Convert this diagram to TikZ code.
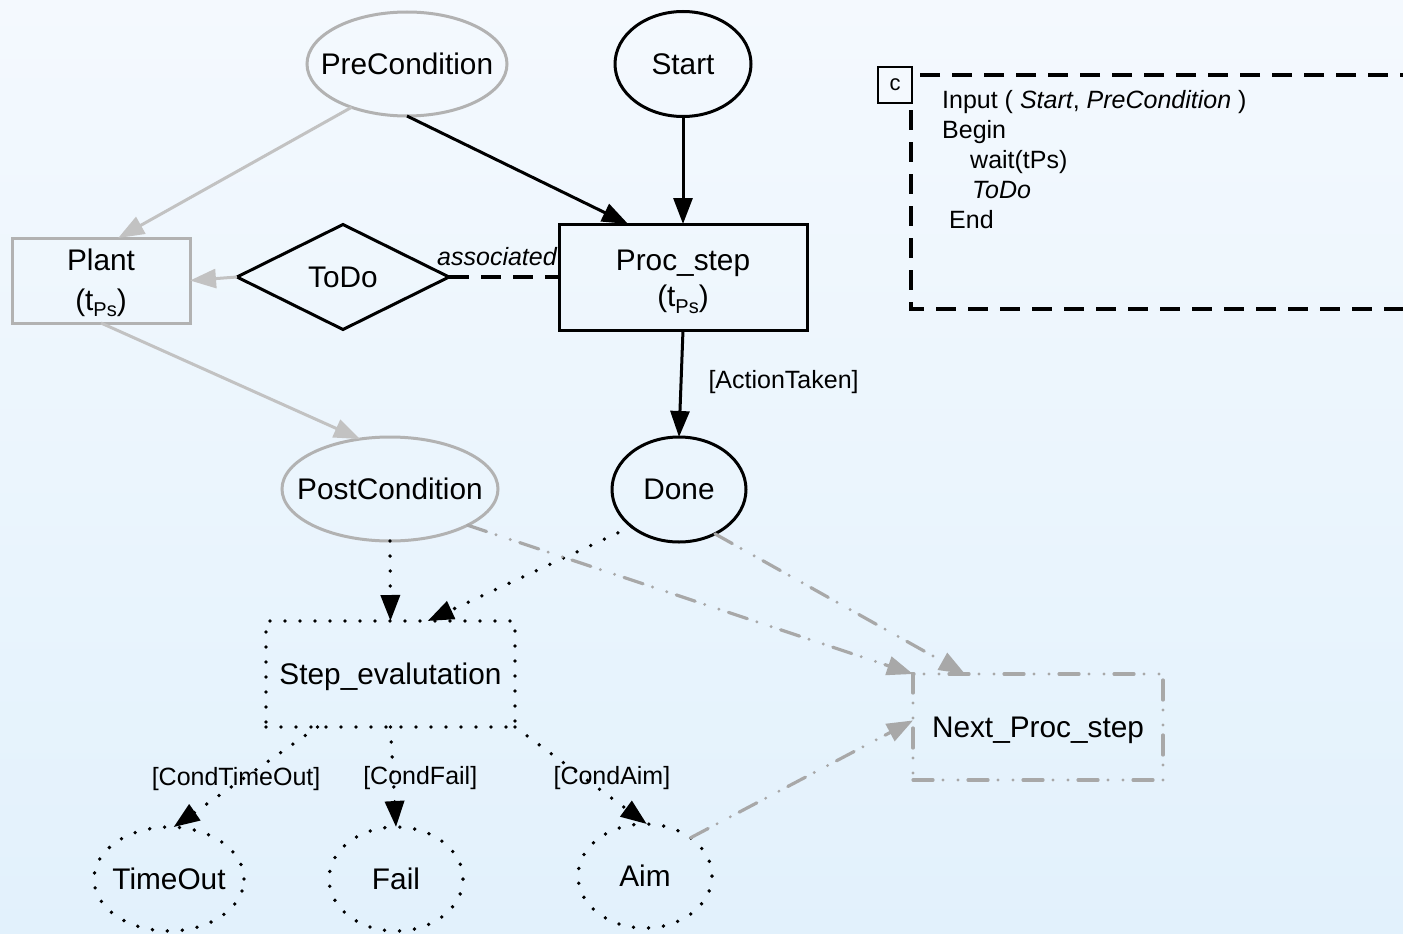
\documentclass[tikz,border=0pt]{standalone}
\usepackage{fontspec}
\setmainfont{Liberation Sans}
\usetikzlibrary{shapes.geometric,arrows.meta}
\definecolor{bgtop}{RGB}{244,249,254}
\definecolor{bgbot}{RGB}{226,241,252}
\definecolor{nodegray}{RGB}{178,178,178}
\definecolor{edgegray}{RGB}{194,194,194}
\definecolor{dashgray}{RGB}{168,168,168}
\newcommand{\subPs}{\raisebox{-0.22em}{\fontsize{20}{20}\selectfont Ps}}
\begin{document}
\begin{tikzpicture}[x=1pt,y=-1pt,
  mainfont/.style={font=\fontsize{29.8}{36}\selectfont},
  smallfont/.style={font=\fontsize{25}{30}\selectfont},
  base/.style={inner sep=0pt, outer sep=0pt, line width=3pt, mainfont, align=center},
  ell/.style={base, ellipse, draw},
  box/.style={base, rectangle, draw},
  dotline/.style={line width=3.8pt, line cap=round, dash pattern=on 0pt off 15pt},
  dashline/.style={line width=3.8pt, dash pattern=on 20pt off 12pt},
  dddline/.style={line width=3.2pt, line cap=round, dash pattern=on 20pt off 10pt on 0pt off 15pt on 0pt off 10pt},
  tip/.style={-{Triangle[length=26pt,width=19pt]}},
  blackedge/.style={tip, line width=3pt, black},
  grayedge/.style={tip, line width=3pt, edgegray},
  dotedge/.style={tip, dotline, black},
  dddedge/.style={tip, dddline, dashgray},
  elabel/.style={smallfont, inner sep=0pt},
  codeline/.style={smallfont, inner sep=0pt, anchor=base west}
]
\shade[top color=bgtop, bottom color=bgbot] (0,0) rectangle (1403,934);
\clip (0,0) rectangle (1403,934);

% nodes
\node[ell, draw=nodegray, minimum width=200pt, minimum height=104pt] (pre) at (407,64) {\makebox[0pt]{PreCondition}};
\node[ell, minimum width=136pt, minimum height=105pt] (start) at (683,64) {\makebox[0pt]{Start}};
\node[box, draw=nodegray, minimum width=178pt, minimum height=85pt] (plant) at (101,280.5) {\rule{0pt}{26pt}Plant\\[4pt](t\subPs)};
\node[base, diamond, draw, minimum width=212pt, minimum height=105pt] (todo) at (343,277) {\makebox[0pt]{ToDo}};
\node[box, minimum width=248pt, minimum height=106pt] (proc) at (683,277) {\rule{0pt}{30pt}Proc\_step\\(t\subPs)};
\node[ell, draw=nodegray, minimum width=216pt, minimum height=104pt] (post) at (390,489) {\makebox[0pt]{PostCondition}};
\node[ell, minimum width=134pt, minimum height=105pt] (done) at (679,489.5) {\makebox[0pt]{Done}};
\node[box, dotline, minimum width=249pt, minimum height=106pt] (step) at (390.5,674) {\rule{0pt}{28pt}Step\_evalutation};
\node[box, dddline, draw=dashgray, minimum width=250pt, minimum height=106pt] (next) at (1038,727) {\rule{0pt}{28pt}Next\_Proc\_step};
\node[ell, dotline, minimum width=150pt, minimum height=104pt] (timeout) at (169,879) {\makebox[0pt]{TimeOut}};
\node[ell, dotline, minimum width=134pt, minimum height=104pt] (fail) at (396,879) {\makebox[0pt]{Fail}};
\node[ell, dotline, minimum width=134pt, minimum height=104pt] (aim) at (645,876) {\makebox[0pt]{Aim}};

% comment box
\draw[dashline] (1420,75) -- (911,75) -- (911,309) -- (1420,309);
\node[draw, line width=1.3pt, fill=bgtop, minimum width=34pt, minimum height=36pt, inner sep=0pt, font=\fontsize{22}{26}\selectfont] (cbox) at (895,85) {c};
\node[codeline] (c1) at (942,108) {Input ( \textit{Start}, \textit{PreCondition} )};
\node[codeline] (c2) at (942,138) {Begin};
\node[codeline] (c3) at (970,168) {wait(tPs)};
\node[codeline] (c4) at (972,198) {\textit{ToDo}};
\node[codeline] (c5) at (949,228) {End};

% edges
\draw[grayedge] (pre.218) -- (plant.68);
\draw[blackedge] (pre.south) -- (proc.136);
\draw[blackedge] (start.south) -- (proc.north);
\draw[grayedge] (todo.west) -- (plant.east);
\draw[dashline] (todo.east) -- node[elabel, anchor=south, yshift=9pt, xshift=-7pt, font=\fontsize{25}{30}\selectfont\itshape] (assoc) {associated} (proc.west);
\draw[grayedge] (plant.south) -- (post.121);
\draw[blackedge] (proc.south) -- node[elabel, anchor=west, xshift=26pt, yshift=1.5pt] (lact) {[ActionTaken]} (done.north);
\draw[dotedge] (post.south) -- (step.north);
\draw[dotedge] (done.218) -- (step.55);
\draw[dddedge] (post.335) -- (next.north west);
\draw[dddedge] (done.309) -- (next.144);
\draw[dotedge] (step.216) -- node[elabel, xshift=-9.5pt, yshift=-2pt] (lto) {[CondTimeOut]} (timeout.85);
\draw[dotedge] (step.south) -- node[elabel, xshift=27pt, yshift=-1pt] (lfail) {[CondFail]} (fail.north);
\draw[dotedge] (step.south east) -- node[elabel, xshift=31pt, yshift=-3pt] (laim) {[CondAim]} (aim.88);
\draw[dddedge] (aim.40) -- (next.177);
\end{tikzpicture}
\end{document}
